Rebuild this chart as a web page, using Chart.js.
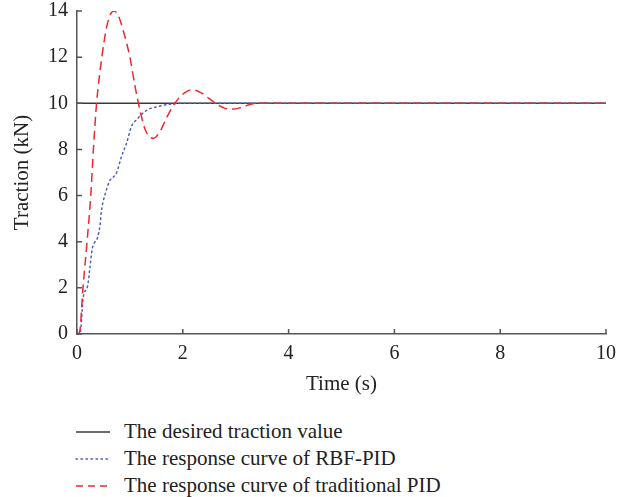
<!DOCTYPE html>
<html>
<head>
<meta charset="utf-8">
<script src="https://cdn.jsdelivr.net/npm/chart.js@4.4.1/dist/chart.umd.min.js"></script>
<style>
  body { margin: 0; background: #fff; }
  #wrap { position: relative; width: 635px; height: 497px; }
  #chart-box { position: absolute; left: 0; top: 0; width: 635px; height: 400px; }
  #legend { position: absolute; left: 75px; top: 418px; font-family: "Liberation Serif", serif; font-size: 21px; color: #222; }
  #legend .row { height: 27px; display: flex; align-items: center; }
  #legend svg { margin-right: 13px; }
</style>
</head>
<body>
<div id="wrap">
  <div id="chart-box"><canvas id="chart"></canvas></div>
  <div id="legend"></div>
</div>
<script>
// podaci ocitani sa slike
const seriesLabels = [
  'The desired traction value',
  'The response curve of RBF-PID',
  'The response curve of traditional PID'
];

const desiredTime = [0, 10];
const desiredValue = [10, 10];

const rbfTime = [0, 0.06, 0.12, 0.2, 0.245, 0.29, 0.33, 0.39, 0.435, 0.46, 0.5, 0.54, 0.61, 0.75, 0.84, 0.94, 1.03, 1.13, 1.32, 1.57, 1.76, 2.0, 3.0, 10];
const rbfValue = [0, 0.05, 1.62, 2.08, 2.89, 3.71, 3.96, 4.19, 4.72, 5.3, 5.8, 6.12, 6.6, 7.0, 7.69, 8.3, 9.0, 9.3, 9.7, 9.88, 9.96, 10, 10, 10];

const pidTime = [0, 0.05, 0.11, 0.19, 0.26, 0.31, 0.37, 0.47, 0.56, 0.63, 0.7, 0.78, 0.88, 1.0, 1.1, 1.2, 1.3, 1.44, 1.55, 1.7, 1.85, 2.0, 2.18, 2.35, 2.5, 2.65, 2.8, 2.95, 3.1, 3.3, 3.5, 10];
const pidValue = [0, 0.1, 1.9, 4.0, 6.0, 8.0, 10.0, 12.0, 13.3, 13.85, 14.0, 13.8, 13.1, 12.0, 10.7, 9.6, 8.8, 8.48, 8.7, 9.4, 10.0, 10.4, 10.58, 10.45, 10.2, 9.95, 9.78, 9.75, 9.82, 9.97, 10.0, 10.0];

const xTicks = [0, 2, 4, 6, 8, 10];
const yTicks = [0, 2, 4, 6, 8, 10, 12, 14];

const toPoints = (xs, ys) => xs.map((x, i) => ({ x: x, y: ys[i] }));

const colors = ['#3a3a3a', '#4a5fc4', '#ea2a30'];
const dashes = [[], [1.5, 3.5], [9, 5]];

const serif = '"Liberation Serif", serif';
const axisColor = '#555';

// plugin za unutrasnje crtice na osama
const innerTicks = {
  id: 'innerTicks',
  afterDraw(chart) {
    const ctx = chart.ctx;
    const area = chart.chartArea;
    const xs = chart.scales.x, ys = chart.scales.y;
    ctx.save();
    ctx.strokeStyle = axisColor;
    ctx.lineWidth = 1.5;
    ctx.beginPath();
    xTicks.forEach(v => {
      const px = xs.getPixelForValue(v);
      ctx.moveTo(px, area.bottom);
      ctx.lineTo(px, area.bottom - 5);
    });
    yTicks.forEach(v => {
      const py = ys.getPixelForValue(v);
      ctx.moveTo(area.left, py);
      ctx.lineTo(area.left + 5, py);
    });
    ctx.stroke();
    ctx.restore();
  }
};

const datasets = [
  { data: toPoints(desiredTime, desiredValue), order: 3 },
  { data: toPoints(rbfTime, rbfValue), order: 2 },
  { data: toPoints(pidTime, pidValue), order: 1 }
].map((d, i) => Object.assign(d, {
  label: seriesLabels[i],
  borderColor: colors[i],
  borderWidth: 1.5,
  borderDash: dashes[i],
  borderCapStyle: i === 1 ? 'round' : 'butt',
  pointRadius: 0,
  fill: false,
  cubicInterpolationMode: 'monotone'
}));

new Chart(document.getElementById('chart'), {
  type: 'line',
  data: { datasets: datasets },
  plugins: [innerTicks],
  options: {
    responsive: true,
    maintainAspectRatio: false,
    animation: false,
    layout: { padding: { top: 11, right: 29, left: 0, bottom: 0 } },
    plugins: { legend: { display: false }, tooltip: { enabled: false } },
    scales: {
      x: {
        type: 'linear',
        min: 0,
        max: 10,
        afterBuildTicks: s => { s.ticks = xTicks.map(v => ({ value: v })); },
        afterFit: s => { s.height = 66; s.paddingLeft = 0; s.paddingRight = 0; },
        grid: { display: false, drawTicks: false },
        border: { display: true, color: axisColor, width: 1.5 },
        ticks: { color: '#222', padding: 8, maxRotation: 0, font: { family: serif, size: 20 } },
        title: { display: true, text: 'Time (s)', color: '#222', padding: { top: 0, bottom: 3 }, font: { family: serif, size: 21 } }
      },
      y: {
        min: 0,
        max: 14,
        afterBuildTicks: s => { s.ticks = yTicks.map(v => ({ value: v })); },
        afterFit: s => { s.width = 77; s.paddingTop = 0; s.paddingBottom = 0; },
        grid: { display: false, drawTicks: false },
        border: { display: true, color: axisColor, width: 1.5 },
        ticks: { color: '#222', padding: 9, font: { family: serif, size: 20 } },
        title: { display: true, text: 'Traction (kN)', color: '#222', padding: { top: 10, bottom: 0 }, font: { family: serif, size: 21 } }
      }
    }
  }
});

// legenda ispod grafa
const legend = document.getElementById('legend');
seriesLabels.forEach((lab, i) => {
  const row = document.createElement('div');
  row.className = 'row';
  const dash = dashes[i].length ? `stroke-dasharray="${dashes[i][0] === 9 ? '7,5' : '1.5,3.5'}"` : '';
  const cap = i === 1 ? 'round' : 'butt';
  row.innerHTML = `<svg width="36" height="4"><line x1="1" y1="2" x2="35" y2="2" stroke="${colors[i]}" stroke-width="1.5" stroke-linecap="${cap}" ${dash}/></svg><span>${lab}</span>`;
  legend.appendChild(row);
});
</script>
</body>
</html>
